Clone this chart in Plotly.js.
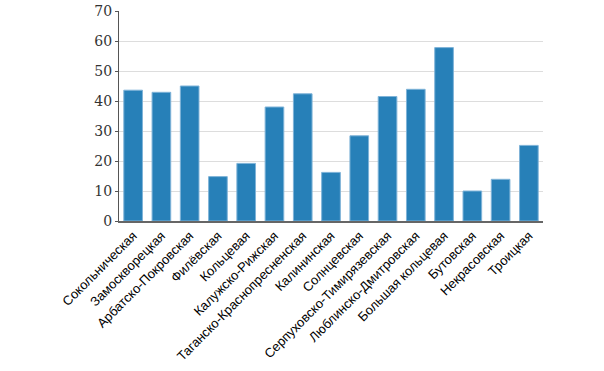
<!DOCTYPE html>
<html><head><meta charset="utf-8">
<script src="https://cdn.plot.ly/plotly-3.0.1.min.js"></script>
<style>body{margin:0;background:#fff}#c{width:604px;height:371px}</style>
</head><body><div id="c"></div>
<script>
const categories = ["Сокольническая","Замоскворецкая","Арбатско-Покровская","Филёвская","Кольцевая","Калужско-Рижская","Таганско-Краснопресненская","Калининская","Солнцевская","Серпуховско-Тимирязевская","Люблинско-Дмитровская","Большая кольцевая","Бутовская","Некрасовская","Троицкая"];
const values = [43.6,42.9,45.0,14.8,19.2,38.0,42.4,16.2,28.4,41.5,43.9,57.8,10.0,13.9,25.2];
const yTicks = [0,10,20,30,40,50,60,70];

Plotly.newPlot('c',[{
  type:'bar', x:categories, y:values,
  marker:{color:'#2780b8', line:{color:'#7fb3d8', width:1}}
}],{
  width:604, height:371,
  margin:{l:119,r:61,t:11,b:150},
  paper_bgcolor:'#fff', plot_bgcolor:'#fff',
  bargap:0.34, showlegend:false,
  xaxis:{tickangle:-45, tickfont:{family:'Liberation Sans', size:13, color:'#000'},
    showline:true, linecolor:'#666', linewidth:2, ticks:'', showgrid:false},
  yaxis:{range:[0,70], tickvals:yTicks, ticktext:yTicks.map(String),
    tickfont:{family:'DejaVu Serif', size:14, color:'#333'},
    showline:true, linecolor:'#555', linewidth:1, ticks:'outside', ticklen:3, tickcolor:'#555',
    gridcolor:'#ddd', gridwidth:1, zeroline:false}
},{displayModeBar:false, staticPlot:true});
</script></body></html>
